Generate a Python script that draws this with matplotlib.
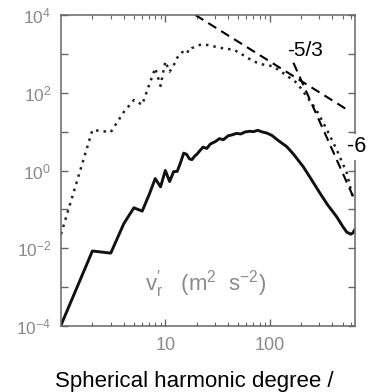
import math
import matplotlib
matplotlib.use("Agg")
import matplotlib.pyplot as plt
from matplotlib.ticker import FixedLocator, FuncFormatter, NullLocator, LogLocator

plt.rcParams['font.family'] = ['Liberation Sans', 'DejaVu Sans']
plt.rcParams['mathtext.fontset'] = 'custom'
plt.rcParams['mathtext.rm'] = 'Liberation Sans'
plt.rcParams['mathtext.it'] = 'Liberation Sans:italic'
plt.rcParams['mathtext.bf'] = 'Liberation Sans:bold'

# ---- data ----
solid_l = [1, 2, 3, 4, 5, 6, 7, 8, 9, 10, 11, 12, 13, 14, 15, 16, 17, 18, 19, 20,
           22, 23, 25, 27, 30, 33, 36, 40, 44, 48, 53, 58, 64, 70, 77, 85, 94, 105,
           120, 146, 170, 210, 250, 304, 360, 440, 500, 548, 600, 630, 650]
solid_v = [1.05e-4, 0.0085, 0.0075, 0.043, 0.11, 0.09, 0.24, 0.62, 0.38, 1.0, 0.52,
           0.93, 0.95, 1.6, 2.8, 2.6, 2.0, 1.9, 2.3, 2.6,
           3.5, 4.0, 3.7, 4.8, 5.5, 6.6, 6.2, 7.8, 8.3, 9.0, 8.7, 9.8, 10.2, 10.0, 10.8,
           9.8, 9.2, 8.0, 6.0, 4.1, 2.6, 1.25, 0.6, 0.26, 0.13, 0.064, 0.037, 0.026,
           0.023, 0.025, 0.029]

dot_l = [1, 2, 3, 4, 5, 6, 7, 8, 9, 10, 11, 12, 13, 14, 15, 17, 18, 20, 22, 25, 29,
         33, 38, 45, 52, 58, 70, 87, 108, 135, 157, 183, 227, 281, 355, 440, 550, 612, 640]
dot_v = [0.023, 11, 9.7, 32, 65, 49, 160, 430, 150, 640, 350, 500, 800, 900, 1290,
         1100, 1400, 1600, 1740, 1700, 1560, 1450, 1350, 1290, 1050, 870, 640, 530,
         480, 320, 240, 178, 80, 36, 11, 3.4, 0.85, 0.26, 0.17]

slope53_l = [19.4, 590]
slope53_v = [1.0e4, 33]
slope6_l = [169, 650]
slope6_v = [590, 0.18]

ytick_exp = [-4, -3, -2, -1, 0, 1, 2, 3, 4]
xtick_vals = [10, 100]
xtick_labels = ['10', '100']

# ---- figure ----
fig = plt.figure(figsize=(3.69, 3.92), dpi=100)
ax = fig.add_axes([61 / 369, 1 - 326 / 392, 294 / 369, 311 / 392])

ax.plot(dot_l, dot_v, color='#222222', lw=1.8, linestyle=(0, (1, 2.0)))
ax.plot(solid_l, solid_v, color='#111111', lw=2.1)
ax.plot(slope53_l, slope53_v, color='black', lw=1.5, dashes=(4.5, 2.8))
ax.plot(slope6_l, slope6_v, color='black', lw=1.5, dashes=(4.5, 2.8))

ax.set_xscale('log')
ax.set_yscale('log')
ax.set_xlim(1, 658)
ax.set_ylim(1e-4, 1e4)

gray = '#8a8a8a'
spine_c = '#666666'
for s in ax.spines.values():
    s.set_color(spine_c)
    s.set_linewidth(1.1)


def yfmt(v, p):
    e = round(math.log10(v))
    return r'$10^{%d}$' % e if e % 2 == 0 else ''


def xfmt(v, p):
    r = round(v)
    return xtick_labels[xtick_vals.index(r)] if r in xtick_vals else ''


ax.yaxis.set_major_locator(FixedLocator([10.0 ** e for e in ytick_exp]))
ax.yaxis.set_minor_locator(NullLocator())
ax.yaxis.set_major_formatter(FuncFormatter(yfmt))
ax.xaxis.set_major_locator(FixedLocator(xtick_vals))
ax.xaxis.set_major_formatter(FuncFormatter(xfmt))
ax.xaxis.set_minor_locator(LogLocator(base=10, subs=range(2, 10)))
ax.xaxis.set_minor_formatter(FuncFormatter(lambda v, p: ''))

ax.tick_params(which='both', direction='in', top=True, right=True, color=spine_c)
ax.tick_params(which='major', length=5, width=1.0)
ax.tick_params(which='minor', length=3, width=0.8)
ax.tick_params(axis='x', labelsize=13, labelcolor=gray, pad=8)
ax.tick_params(axis='y', labelsize=12.5, labelcolor=gray, pad=7)

fig.text(194 / 369, 1 - 387 / 392, 'Spherical harmonic degree /', ha='center',
         va='baseline', fontsize=16, color='black')
fig.text(305 / 369, 1 - 50 / 392, '-5/3', ha='center', va='center', fontsize=15,
         color='black')
fig.text(357 / 369, 1 - 147 / 392, '-6', ha='center', va='center', fontsize=15.5,
         color='black', bbox=dict(facecolor='white', edgecolor='none', pad=1.5))
fig.text(206 / 369, 1 - 284 / 392, r"$\mathregular{v_r' \ \ \ (m^2 \ \ s^{-2})}$",
         ha='center', va='center', fontsize=16, color=gray)

fig.savefig('out.png', dpi=100)
